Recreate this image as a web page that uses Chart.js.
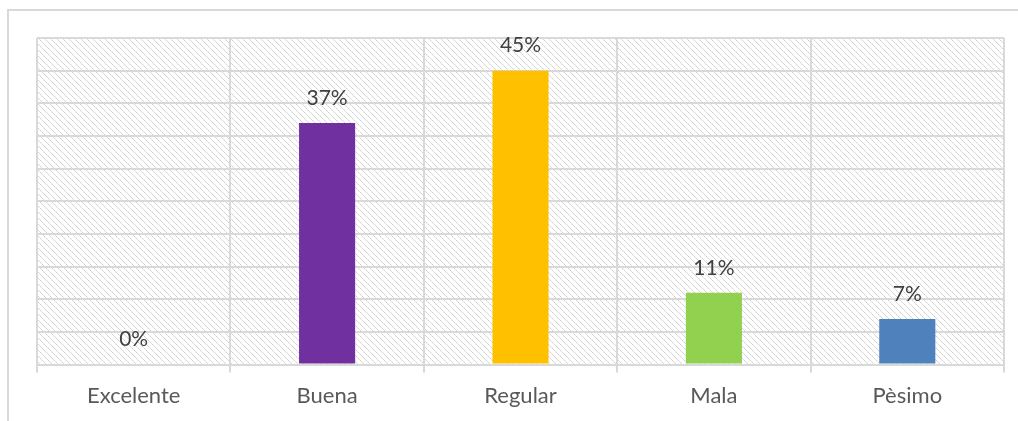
<!DOCTYPE html>
<html>
<head>
<meta charset="utf-8">
<script src="https://cdn.jsdelivr.net/npm/chart.js@4/dist/chart.umd.min.js"></script>
<style>
  html, body { margin: 0; padding: 0; background: #fff; }
  #wrap { position: relative; width: 1018px; height: 421px; }
  #frame { position: absolute; left: 7px; top: 9px; width: 1020px; height: 420px;
           border-left: 2px solid #d9d9d9; border-top: 2px solid #d9d9d9; }
  canvas { position: absolute; left: 0; top: 0; }
</style>
</head>
<body>
<div id="wrap">
  <div id="frame"></div>
  <canvas id="myChart" width="1018" height="421"></canvas>
</div>
<script>
var categorias = ['Excelente', 'Buena', 'Regular', 'Mala', 'Pèsimo'];
var porcentajes = [0, 37, 45, 11, 7];
var colores = ['#7030A0', '#7030A0', '#FFC000', '#92D050', '#4F81BD'];

// patron de rayas diagonales del fondo
function hacerPatron() {
    var c = document.createElement('canvas');
    c.width = 6; c.height = 6;
    var g = c.getContext('2d');
    for (var i = 0; i < 6; i++) {
        g.fillStyle = (i % 2 === 0) ? '#cfcfcf' : '#dedede';
        g.fillRect(i, i, 1, 1);
    }
    return g.createPattern(c, 'repeat');
}

var fondoRayado = {
    id: 'fondoRayado',
    beforeDraw: function(chart) {
        var a = chart.chartArea;
        var ctx = chart.ctx;
        ctx.save();
        ctx.fillStyle = hacerPatron();
        ctx.fillRect(a.left, a.top, a.right - a.left, a.bottom - a.top);
        ctx.restore();
    }
};

var etiquetas = {
    id: 'etiquetas',
    afterDatasetsDraw: function(chart) {
        var ctx = chart.ctx;
        var meta = chart.getDatasetMeta(0);
        ctx.save();
        ctx.font = '21px Lato';
        ctx.fillStyle = '#404040';
        ctx.textAlign = 'center';
        ctx.textBaseline = 'middle';
        meta.data.forEach(function(bar, i) {
            ctx.fillText(porcentajes[i] + '%', bar.x, bar.y - 25);
        });
        ctx.restore();
    }
};

var ctx = document.getElementById('myChart').getContext('2d');
var myChart = new Chart(ctx, {
    type: 'bar',
    data: {
        labels: categorias,
        datasets: [{
            data: porcentajes,
            backgroundColor: colores,
            borderWidth: 0,
            categoryPercentage: 1,
            barPercentage: 0.29
        }]
    },
    plugins: [fondoRayado, etiquetas],
    options: {
        responsive: false,
        animation: false,
        layout: { padding: { left: 37, right: 14, top: 38, bottom: 2 } },
        plugins: { legend: { display: false }, tooltip: { enabled: false } },
        scales: {
            x: {
                offset: true,
                grid: { offset: true, color: '#d9d9d9', lineWidth: 2, tickLength: 8 },
                border: { color: '#d9d9d9', width: 2 },
                ticks: { color: '#595959', font: { family: 'Lato', size: 22 }, padding: 10 }
            },
            y: {
                min: 0,
                max: 50,
                ticks: { display: false, stepSize: 5 },
                grid: { color: '#d9d9d9', lineWidth: 2, tickLength: 0, drawTicks: false },
                border: { display: false }
            }
        }
    }
});
</script>
</body>
</html>
